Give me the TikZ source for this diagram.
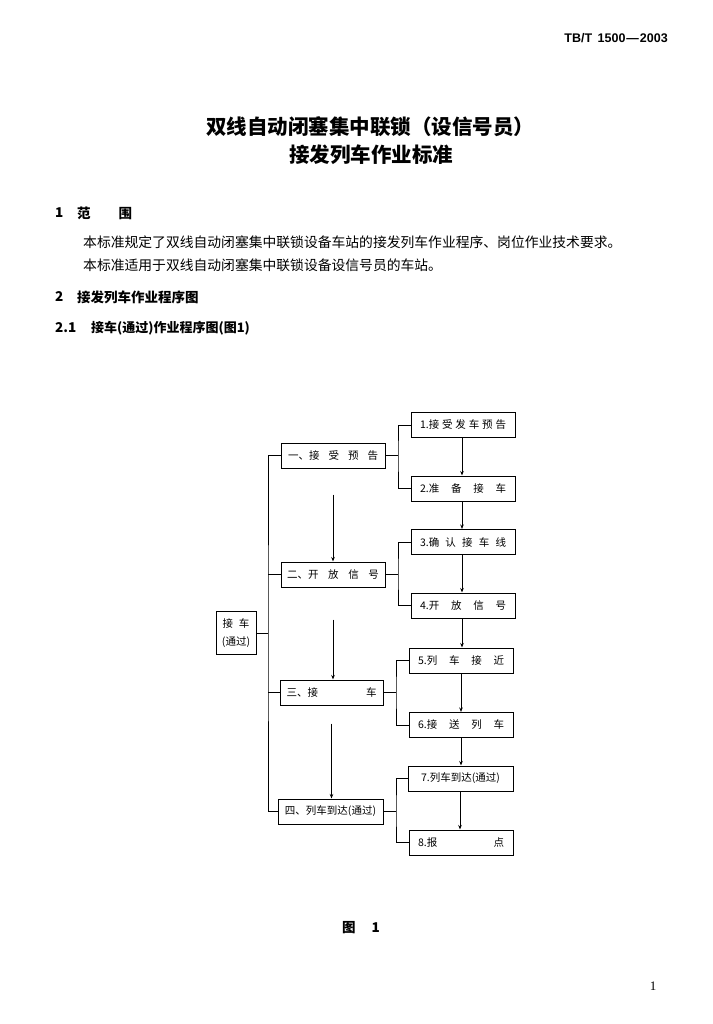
\documentclass[tikz,border=0pt]{standalone}
\usepackage{fontspec}
\setmainfont{Liberation Serif}
\newfontfamily\cjk{Noto Sans CJK SC}
\newfontfamily\hdrfont{Liberation Sans}
\usetikzlibrary{arrows.meta}
\tikzset{
  box/.style={draw, line width=1pt, rectangle, inner sep=0pt, minimum width=104pt, minimum height=25pt, font=\cjk\fontsize{10.5}{12}\selectfont},
  lbox/.style={draw, line width=1pt, rectangle, inner sep=0pt, minimum width=40pt, minimum height=43pt, align=center, font=\cjk\fontsize{10.5}{18}\selectfont},
  conn/.style={line width=1pt},
  arr/.style={line width=1pt, -{Stealth[length=4.5pt,width=3.5pt]}},
  txt/.style={inner sep=0pt, anchor=west, font=\cjk\fontsize{13.8}{16}\selectfont},
  head/.style={inner sep=0pt, anchor=west, font=\cjk\bfseries\fontsize{13.5}{16}\selectfont},
  ttl/.style={inner sep=0pt, font=\cjk\bfseries\fontsize{20.5}{24}\selectfont}
}
\newcommand{\spreadbox}[2]{\makebox[#1pt]{#2}}
\begin{document}
\begin{tikzpicture}[x=1pt,y=-1pt]
\fill[white] (0,0) rectangle (712,1024);
\useasboundingbox (0,0) rectangle (712,1024);

% header and text
\node[inner sep=0pt, anchor=east, font=\hdrfont\bfseries\fontsize{12.5}{14}\selectfont] (hdr) at (668,38) {TB/T\hspace{2pt} 1500\hspace{1pt}—\hspace{1pt}2003};
\node[ttl] (t1) at (370,127) {双线自动闭塞集中联锁（设信号员）};
\node[ttl] (t2) at (371,155) {接发列车作业标准};
\node[head] (s1n) at (55,213) {1};
\node[head] (s1) at (77,213) {范\hspace{28pt}围};
\node[txt] (p1) at (83,242) {本标准规定了双线自动闭塞集中联锁设备车站的接发列车作业程序、岗位作业技术要求。};
\node[txt] (p2) at (83,265) {本标准适用于双线自动闭塞集中联锁设备设信号员的车站。};
\node[head] (s2n) at (55,297) {2};
\node[head] (s2) at (77,297) {接发列车作业程序图};
\node[head] (s21n) at (55,328) {2.1};
\node[head, font=\cjk\bfseries\fontsize{13}{16}\selectfont] (s21) at (91,328) {接车(通过)作业程序图(图1)};
\node[head] (fig) at (342,928) {图\hspace{16pt}1};
\node[inner sep=0pt, font=\fontsize{13}{15}\selectfont] (pg) at (653,986) {1};

% left box
\node[lbox] (L) at (236,633) {接\hspace{6pt}车\\(通过)};

% main column
\node[box] (m1) at (333,455.5) {\spreadbox{90}{一、接\hfill 受\hfill 预\hfill 告}};
\node[box] (m2) at (333,574.5) {\spreadbox{92}{二、开\hfill 放\hfill 信\hfill 号}};
\node[box, minimum width=103pt] (m3) at (331.5,692.5) {\spreadbox{90}{三、接\hfill 车}};
\node[box, minimum width=105pt] (m4) at (330.5,811.5) {四、列车到达(通过)};

% right column
\node[box] (r1) at (463,425) {\spreadbox{86}{1.接\hfill 受\hfill 发\hfill 车\hfill 预\hfill 告}};
\node[box] (r2) at (463,488.5) {\spreadbox{86}{2.准\hfill 备\hfill 接\hfill 车}};
\node[box] (r3) at (463,542) {\spreadbox{86}{3.确\hfill 认\hfill 接\hfill 车\hfill 线}};
\node[box] (r4) at (463,605.5) {\spreadbox{86}{4.开\hfill 放\hfill 信\hfill 号}};
\node[box] (r5) at (461,660.5) {\spreadbox{86}{5.列\hfill 车\hfill 接\hfill 近}};
\node[box] (r6) at (461,725) {\spreadbox{86}{6.接\hfill 送\hfill 列\hfill 车}};
\node[box, minimum width=105pt] (r7) at (460.5,778.5) {\spreadbox{88}{7.列车到达(通过)}};
\node[box] (r8) at (461,842.5) {\spreadbox{86}{8.报\hfill 点}};

% left bracket
\coordinate (jl) at (268,633);
\draw[conn] (L.east) -- (jl);
\draw[conn] (m1.west) -| (jl) |- (m4.west);
\draw[conn] (m2.west) -- (m2.west -| jl);
\draw[conn] (m3.west) -- (m3.west -| jl);

% right brackets
\coordinate (j1) at (398,455.5);
\draw[conn] (m1.east) -- (j1);
\draw[conn] (r1.west) -| (j1) |- (r2.west);
\coordinate (j2) at (398,574.5);
\draw[conn] (m2.east) -- (j2);
\draw[conn] (r3.west) -| (j2) |- (r4.west);
\coordinate (j3) at (396,692.5);
\draw[conn] (m3.east) -- (j3);
\draw[conn] (r5.west) -| (j3) |- (r6.west);
\coordinate (j4) at (396,811.5);
\draw[conn] (m4.east) -- (j4);
\draw[conn] (r7.west) -| (j4) |- (r8.west);

% main arrows
\draw[arr, shorten <=26pt] (m1.south) -- (m2.north);
\draw[arr, shorten <=32pt] (m2.south) -- (m3.north -| m2.south);
\draw[arr, shorten <=18pt] (m3.south) -- (m4.north -| m3.south);

% right arrows
\draw[arr] (r1.south -| 462,0) -- (r2.north -| 462,0);
\draw[arr] (r2.south -| 462,0) -- (r3.north -| 462,0);
\draw[arr] (r3.south -| 462,0) -- (r4.north -| 462,0);
\draw[arr] (r4.south -| 462,0) -- (r5.north -| 462,0);
\draw[arr] (r5.south -| 461,0) -- (r6.north -| 461,0);
\draw[arr] (r6.south -| 461,0) -- (r7.north -| 461,0);
\draw[arr] (r7.south -| 460,0) -- (r8.north -| 460,0);
\end{tikzpicture}
\end{document}
